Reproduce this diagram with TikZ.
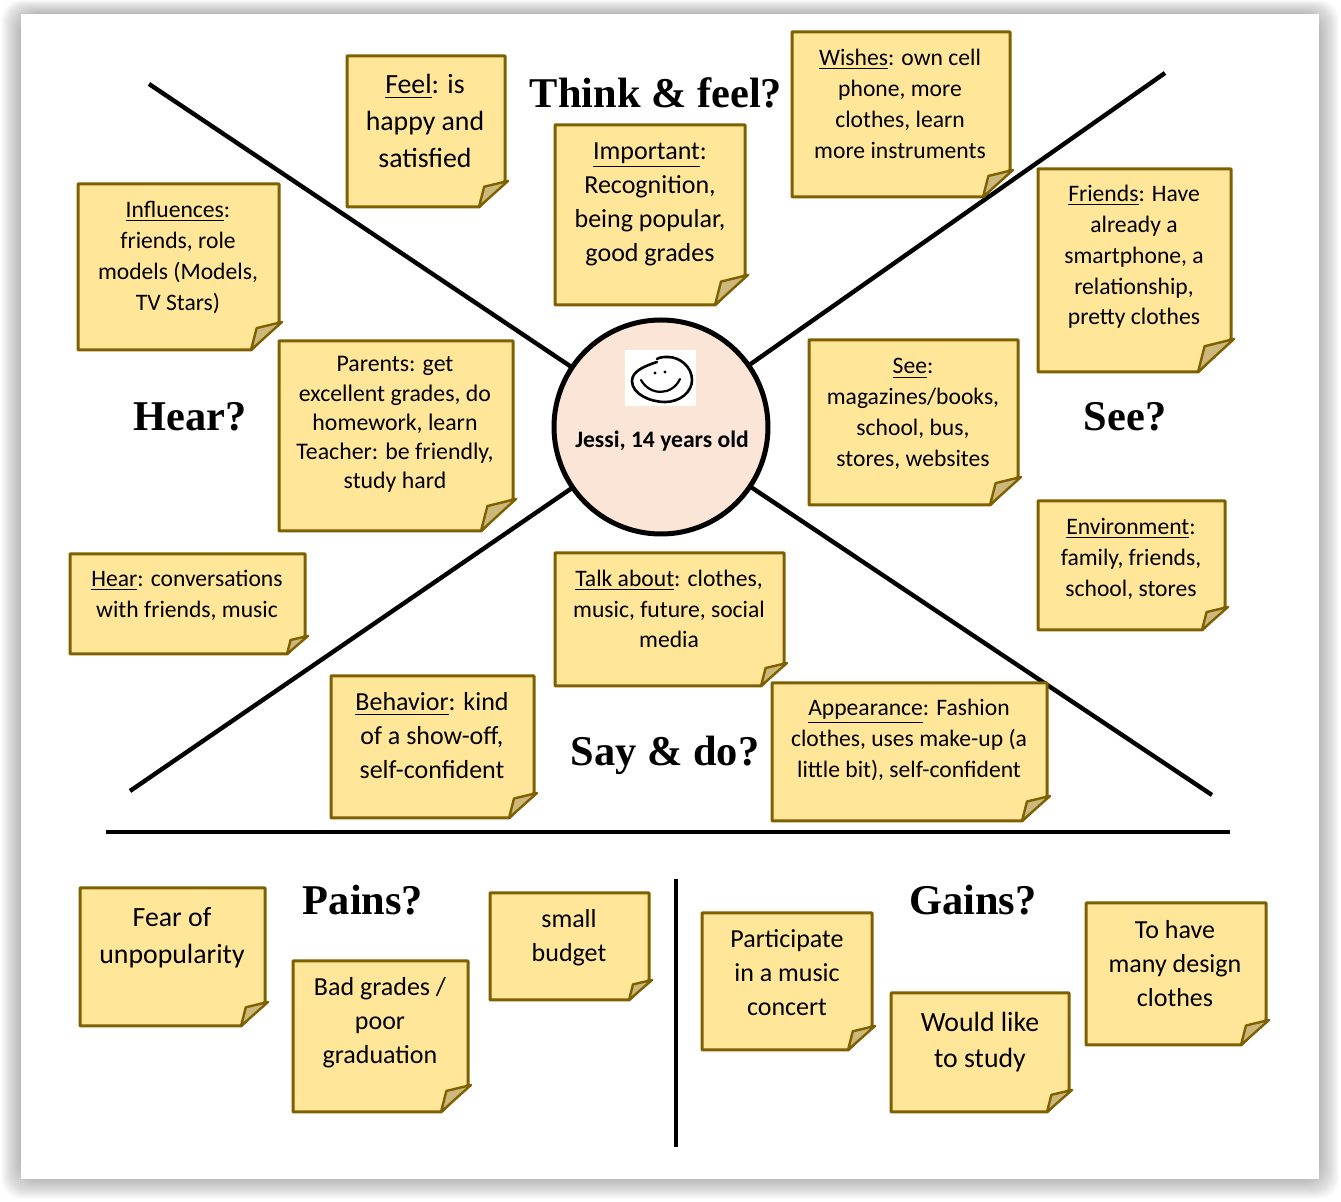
\documentclass[tikz,border=0pt]{standalone}
\usepackage{fontspec}
\setmainfont{Carlito}
\newfontfamily\headfont{Liberation Serif}
\definecolor{noteyellow}{HTML}{FFE699}
\definecolor{noteedge}{HTML}{7F6000}
\definecolor{notefold}{HTML}{CDB87C}
\definecolor{hubfill}{HTML}{FBE5D6}
\tikzset{
  bar/.style={line width=2.2pt, black},
  notebody/.style={draw=noteedge, fill=noteyellow, line width=1.5pt, line join=round},
  notefoldd/.style={draw=noteedge, fill=notefold, line width=1.2pt, line join=round},
  heading/.style={font=\headfont\bfseries\fontsize{21.2}{24}\selectfont},
  small/.style={align=center, font=\fontsize{11.9}{14.6}\selectfont},
  mid/.style={align=center, font=\fontsize{11.8}{15.4}\selectfont},
  large/.style={align=center, font=\fontsize{13}{17}\selectfont},
  huge/.style={align=center, font=\fontsize{13.9}{18.3}\selectfont},
}
\begin{document}
\begin{tikzpicture}[x=0.5pt, y=-0.5pt]
  \useasboundingbox (0,0) rectangle (1341,1202);
  % frame with soft shadow
  \foreach \i in {1, ..., 20} {
    \fill[black, opacity=.015, rounded corners=10]
    ({21-\i},{14-.7*\i}) rectangle ({1319+\i},{1179+\i});
  }
  \fill[white] (21,14) rectangle (1319,1179);
  % centre
  \node[circle, minimum size=107pt, inner sep=0pt] (hub) at (661,427) {};
  \coordinate (endNW) at (149,84);
  \coordinate (endNE) at (1165,73);
  \coordinate (endSW) at (130,791);
  \coordinate (endSE) at (1212,795);
  \coordinate (ruleW) at (106,832);
  \coordinate (ruleE) at (1230,832);
  \coordinate (splitN) at (676,879);
  \coordinate (splitS) at (676,1147);
  \foreach \e in {endNW, endNE, endSW, endSE} {
    \draw[bar] (hub) -- (\e);
  }
  \draw[bar] (ruleW) -- (ruleE);
  \draw[bar] (splitN) -- (splitS);
  % sticky notes
  \foreach \nm/\xa/\ya/\xb/\yb/\f/\cx/\cy/\sty/\txt in {
    feel/347/56/505/207/26/425/121/huge/{\underline{Feel}: is\\happy and\\satisfied},
    important/555/125/745/305/30/650/204/large/{\underline{Important}:\\Recognition,\\being popular,\\good grades},
    wishes/792/32/1010/197/27/900/104/mid/{\underline{Wishes}: own cell\\phone, more\\clothes, learn\\more instruments},
    influences/78/184/279/350/28/178/257.5/mid/{\underline{Influences}:\\friends, role\\models (Models,\\TV Stars)},
    friends/1038/169/1231/372/33/1134/257/mid/{\underline{Friends}: Have\\already a\\smartphone, a\\relationship,\\pretty clothes},
    parents/279/341/513/531/32/395/424.5/small/{Parents: get\\excellent grades, do\\homework, learn\\Teacher: be friendly,\\study hard},
    see/809/340/1018/505/28/913/414/mid/{\underline{See}:\\magazines/books,\\school, bus,\\stores, websites},
    environment/1038/501/1225/630/23/1131/559/mid/{\underline{Environment}:\\family, friends,\\school, stores},
    hear/70/554/305/654/18/187/595.5/mid/{\underline{Hear}: conversations\\with friends, music},
    talk/555/553/784/686/23/669/609/mid/{\underline{Talk about}: clothes,\\music, future, social\\media},
    behavior/331/676/534/818/25/432/736/large/{\underline{Behavior}: kind\\of a show-off,\\self-confident},
    appearance/772/683/1047/821/25/909/740/mid/{\underline{Appearance}: Fashion\\clothes, uses make-up (a\\little bit), self-confident},
    fear/80/888/265/1026/24/172/938/huge/{Fear of\\unpopularity},
    bad/293/961/468/1112/27/380/1023/large/{Bad grades /\\poor\\graduation},
    budget/490/893/649/1000/20/569/938/large/{small\\budget},
    concert/702/913/872/1050/24/787/973/large/{Participate\\in a music\\concert},
    study/891/993/1069/1112/22/980/1042/huge/{Would like\\to study},
    design/1086/903/1266/1045/25/1175/964/large/{To have\\many design\\clothes}%
  } {
    \draw[notebody]
    (\xa,\ya) -- (\xb,\ya) -- (\xb,{\yb-\f}) -- ({\xb-\f},\yb) -- (\xa,\yb) -- cycle;
    \draw[notefoldd]
    ({\xb-\f},\yb) -- ({\xb-.8*\f},{\yb-.78*\f}) -- ({\xb+3},{\yb-\f}) -- cycle;
    \node[\sty, inner sep=0pt] (note\nm) at (\cx,\cy) {\txt};
  }
  % headings
  \node[heading] (think) at (656,93) {Think \& feel?};
  \node[heading] (hearq) at (190,417) {Hear?};
  \node[heading] (seeq) at (1125,417) {See?};
  \node[heading] (say) at (665,755) {Say \& do?};
  \node[heading] (pains) at (363,900) {Pains?};
  \node[heading] (gains) at (973,900) {Gains?};
  % centre on top of the lines
  \draw[fill=hubfill, line width=2.5pt] (hub.center) circle (107);
  \fill[white] (625,350) rectangle (696,406);
  \draw[line width=1.3pt, line cap=round]
  (657,362)
  .. controls (645,366) and (632,371) .. (632,381)
  .. controls (632,394) and (650,402) .. (665,402)
  .. controls (680,402) and (692,392) .. (692,380)
  .. controls (692,367) and (680,357) .. (668,357)
  .. controls (664,357) and (660,357) .. (657,359);
  \draw[line width=1.1pt, line cap=round] (641,380) .. controls (650,396) and (672,396) .. (680,379);
  \fill (655,373) circle (1.6);
  \fill (665,372) circle (1.6);
  \node[font=\bfseries\fontsize{11.8}{14}\selectfont] (jessi) at (662,441.5) {Jessi, 14 years old};
\end{tikzpicture}
\end{document}
